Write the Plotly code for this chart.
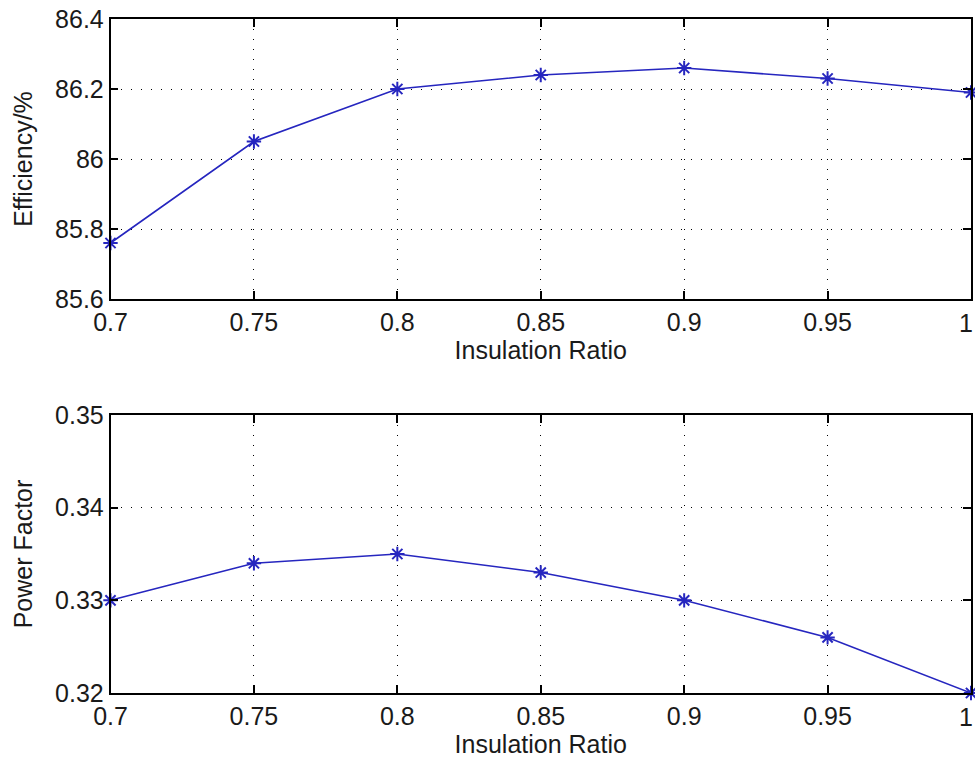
import plotly.graph_objects as go

# Insulation ratio sweep and the resulting motor performance
insulation_ratio = [0.7, 0.75, 0.8, 0.85, 0.9, 0.95, 1.0]
efficiency_pct = [85.76, 86.05, 86.20, 86.24, 86.26, 86.23, 86.19]
power_factor = [0.330, 0.334, 0.335, 0.333, 0.330, 0.326, 0.320]

x_ticks = [0.7, 0.75, 0.8, 0.85, 0.9, 0.95, 1.0]
x_tick_text = ["0.7", "0.75", "0.8", "0.85", "0.9", "0.95", "1"]
eff_ticks = [85.6, 85.8, 86.0, 86.2, 86.4]
eff_tick_text = ["85.6", "85.8", "86", "86.2", "86.4"]
pf_ticks = [0.32, 0.33, 0.34, 0.35]
pf_tick_text = ["0.32", "0.33", "0.34", "0.35"]

W, H = 975, 766
FONT = dict(family="Liberation Sans, Arial, sans-serif", size=25, color="#1a1a1a")
LINE_COLOR = "#2626bf"
MARK_COLOR = "#0000ff"


def px_x(a, b):
    return [a / W, b / W]


def px_y(top, bottom):
    return [(H - bottom) / H, (H - top) / H]


fig = go.Figure()

for ys, xa, ya in [(efficiency_pct, "x", "y"), (power_factor, "x2", "y2")]:
    fig.add_trace(go.Scatter(
        x=insulation_ratio, y=ys, xaxis=xa, yaxis=ya,
        mode="lines+markers",
        line=dict(color=LINE_COLOR, width=1.6),
        marker=dict(symbol="asterisk-open", size=12,
                    line=dict(color=MARK_COLOR, width=2)),
        cliponaxis=False, showlegend=False,
    ))

axis_common = dict(
    showline=True, linecolor="black", linewidth=1.5, mirror="allticks",
    ticks="inside", ticklen=8, tickcolor="black", tickwidth=1.5,
    showgrid=True, gridcolor="black", gridwidth=1, griddash="1px,9px",
    zeroline=False, tickfont=FONT, automargin=False,
)

# the last x label sits on the right page edge, so it is right-aligned there
x_axis_text = x_tick_text[:-1] + [""]

fig.update_layout(
    width=W, height=H,
    margin=dict(l=0, r=0, t=0, b=0),
    paper_bgcolor="white", plot_bgcolor="white",
    font=FONT,
    xaxis=dict(domain=px_x(110.5, 971), anchor="y", range=[0.7, 1.0],
               tickvals=x_ticks, ticktext=x_axis_text,
               title=dict(text="Insulation Ratio", font=FONT, standoff=4),
               **axis_common),
    yaxis=dict(domain=px_y(19, 299), anchor="x", range=[85.6, 86.4],
               tickvals=eff_ticks, ticktext=eff_tick_text,
               title=dict(text="Efficiency/%", font=FONT, standoff=15),
               **axis_common),
    xaxis2=dict(domain=px_x(110.5, 971), anchor="y2", range=[0.7, 1.0],
                tickvals=x_ticks, ticktext=x_axis_text,
                title=dict(text="Insulation Ratio", font=FONT, standoff=4),
                **axis_common),
    yaxis2=dict(domain=px_y(415, 693), anchor="x2", range=[0.32, 0.35],
                tickvals=pf_ticks, ticktext=pf_tick_text,
                title=dict(text="Power Factor", font=FONT, standoff=15),
                **axis_common),
)

for xref, yref, ybase in [("x", "y", 85.6), ("x2", "y2", 0.32)]:
    fig.add_annotation(
        x=x_ticks[-1], y=ybase, xref=xref, yref=yref,
        text=x_tick_text[-1], showarrow=False, font=FONT,
        xanchor="right", yanchor="top", xshift=4, yshift=-8,
    )

fig.write_html("out.html")
